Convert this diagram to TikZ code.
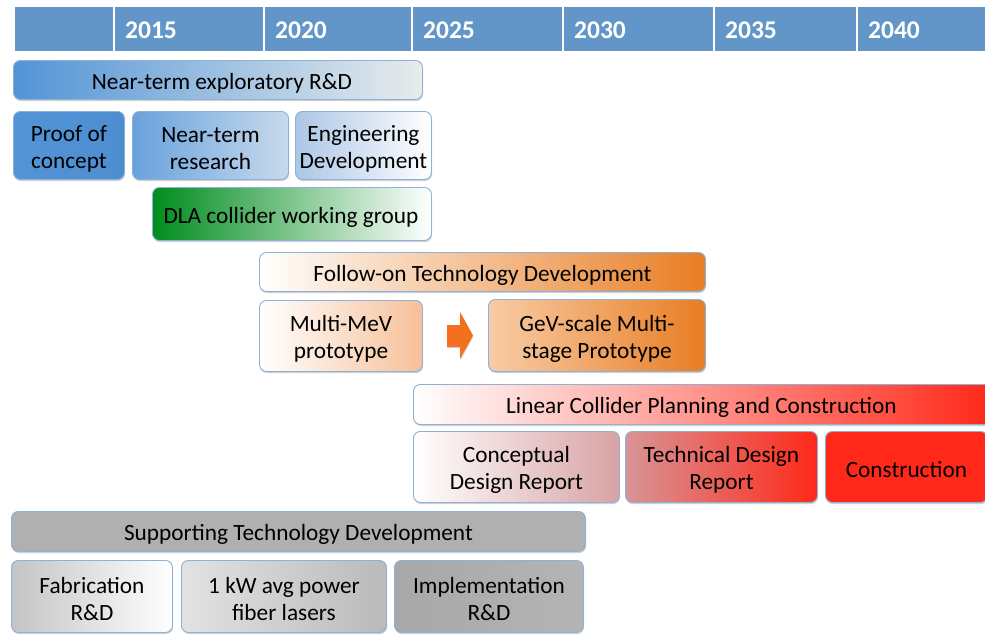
\documentclass[tikz,border=0pt]{standalone}
\usepackage{fontspec}
\setmainfont{Carlito}
\usetikzlibrary{shadows}
\definecolor{hdr}{RGB}{98,150,200}
\definecolor{bordc}{RGB}{140,178,218}
\definecolor{bA}{RGB}{82,148,214}
\definecolor{bB}{RGB}{232,236,236}
\definecolor{bC}{RGB}{78,142,208}
\definecolor{bD}{RGB}{104,162,220}
\definecolor{bE}{RGB}{200,218,236}
\definecolor{bF}{RGB}{172,198,230}
\definecolor{gA}{RGB}{0,140,30}
\definecolor{oA}{RGB}{232,125,35}
\definecolor{oB}{RGB}{246,192,152}
\definecolor{oC}{RGB}{248,204,166}
\definecolor{oArr}{RGB}{245,112,30}
\definecolor{rA}{RGB}{255,40,25}
\definecolor{rB}{RGB}{216,162,164}
\definecolor{rC}{RGB}{216,148,150}
\definecolor{kA}{RGB}{176,176,176}
\definecolor{kB}{RGB}{196,196,196}
\definecolor{kC}{RGB}{226,226,226}
\definecolor{kD}{RGB}{186,186,186}
\definecolor{kE}{RGB}{168,168,168}
\definecolor{kF}{RGB}{180,180,180}
\begin{document}
\begin{tikzpicture}[x=1pt,y=-1pt,
  box/.style={draw=bordc, line width=0.9pt, rounded corners=7pt,
    inner sep=0pt, anchor=north west,
    drop shadow={shadow xshift=0.6pt, shadow yshift=-1.6pt, opacity=0.3, fill=black!60}},
  txt/.style={align=center, inner sep=0pt, text=black, yshift=-3pt,
    font=\fontsize{23.3}{27}\selectfont},
  hcell/.style={fill=hdr, draw=white, line width=1.5pt, anchor=north west,
    minimum height=46, inner sep=0pt},
  year/.style={anchor=west, text=white, inner sep=0pt,
    font=\fontsize{25.5}{30}\selectfont\bfseries}]
\useasboundingbox (0,0) rectangle (985,635);
\fill[white] (0,0) rectangle (985,635);
% header
\node[hcell, minimum width=100] (h0) at (13,5) {};
\node[hcell, minimum width=150] (h1) at (113,5) {};
\node[hcell, minimum width=148] (h2) at (263,5) {};
\node[hcell, minimum width=151] (h3) at (411,5) {};
\node[hcell, minimum width=151] (h4) at (562,5) {};
\node[hcell, minimum width=143] (h5) at (713,5) {};
\node[hcell, minimum width=140] (h6) at (856,5) {};
\node[year] (y1) at ([xshift=12pt,yshift=-1pt]h1.west) {2015};
\node[year] (y2) at ([xshift=12pt,yshift=-1pt]h2.west) {2020};
\node[year] (y3) at ([xshift=12pt,yshift=-1pt]h3.west) {2025};
\node[year] (y4) at ([xshift=12pt,yshift=-1pt]h4.west) {2030};
\node[year] (y5) at ([xshift=12pt,yshift=-1pt]h5.west) {2035};
\node[year] (y6) at ([xshift=12pt,yshift=-1pt]h6.west) {2040};
% near-term
\node[box, left color=bA, right color=bB, minimum width=409, minimum height=39,
  label={[txt, xshift=4pt]center:{Near-term exploratory R\&D}}] (nte) at (13,60) {};
\node[box, left color=bA, right color=bC, minimum width=111, minimum height=68,
  label={[txt]center:{Proof of\\concept}}] (poc) at (13,111) {};
\node[box, left color=bD, right color=bE, minimum width=156, minimum height=68,
  label={[txt]center:{Near-term\\research}}] (ntr) at (132,111) {};
\node[box, left color=bF, right color=white, minimum width=136, minimum height=68,
  label={[txt]center:{Engineering\\Development}}] (eng) at (295,111) {};
\node[box, left color=gA, right color=white, minimum width=279, minimum height=53,
  label={[txt, xshift=-1pt]center:{DLA collider working group}}] (dla) at (152,187) {};
% follow-on
\node[box, left color=white, right color=oA, minimum width=446, minimum height=39,
  label={[txt]center:{Follow-on Technology Development}}] (fol) at (259,252) {};
\node[box, left color=white, right color=oB, minimum width=163, minimum height=71,
  label={[txt]center:{Multi-MeV\\prototype}}] (mev) at (259,300) {};
\node[box, left color=oC, right color=oA, minimum width=217, minimum height=72,
  label={[txt]center:{GeV-scale Multi-\\stage Prototype}}] (gev) at (488,299) {};
\fill[oArr, drop shadow={shadow xshift=0.6pt, shadow yshift=-1.2pt, opacity=0.25, fill=black!60}]
  (447,325) -- (460,325) -- (460,312) -- (473,335.5) -- (460,359) -- (460,347) -- (447,347) -- cycle;
% linear collider
\node[box, left color=white, right color=rA, minimum width=580, minimum height=40,
  label={[txt, xshift=-2pt]center:{Linear Collider Planning and Construction}}] (lin) at (413,384) {};
\node[box, left color=white, right color=rB, minimum width=206, minimum height=71,
  label={[txt]center:{Conceptual\\Design Report}}] (cdr) at (413,431) {};
\node[box, left color=rC, right color=rA, minimum width=192, minimum height=71,
  label={[txt]center:{Technical Design\\Report}}] (tdr) at (625,431) {};
\node[box, fill=rA, minimum width=162, minimum height=71,
  label={[txt]center:{Construction}}] (con) at (825,431) {};
% supporting
\node[box, fill=kA, minimum width=574, minimum height=40,
  label={[txt]center:{Supporting Technology Development}}] (sup) at (11,511) {};
\node[box, left color=kB, right color=white, minimum width=161, minimum height=72,
  label={[txt]center:{Fabrication\\R\&D}}] (fab) at (11,560) {};
\node[box, left color=kC, right color=kD, minimum width=205, minimum height=72,
  label={[txt]center:{1 kW avg power\\fiber lasers}}] (kw) at (181,560) {};
\node[box, left color=kE, right color=kF, minimum width=189, minimum height=72,
  label={[txt]center:{Implementation\\R\&D}}] (imp) at (394,560) {};
\end{tikzpicture}
\end{document}
